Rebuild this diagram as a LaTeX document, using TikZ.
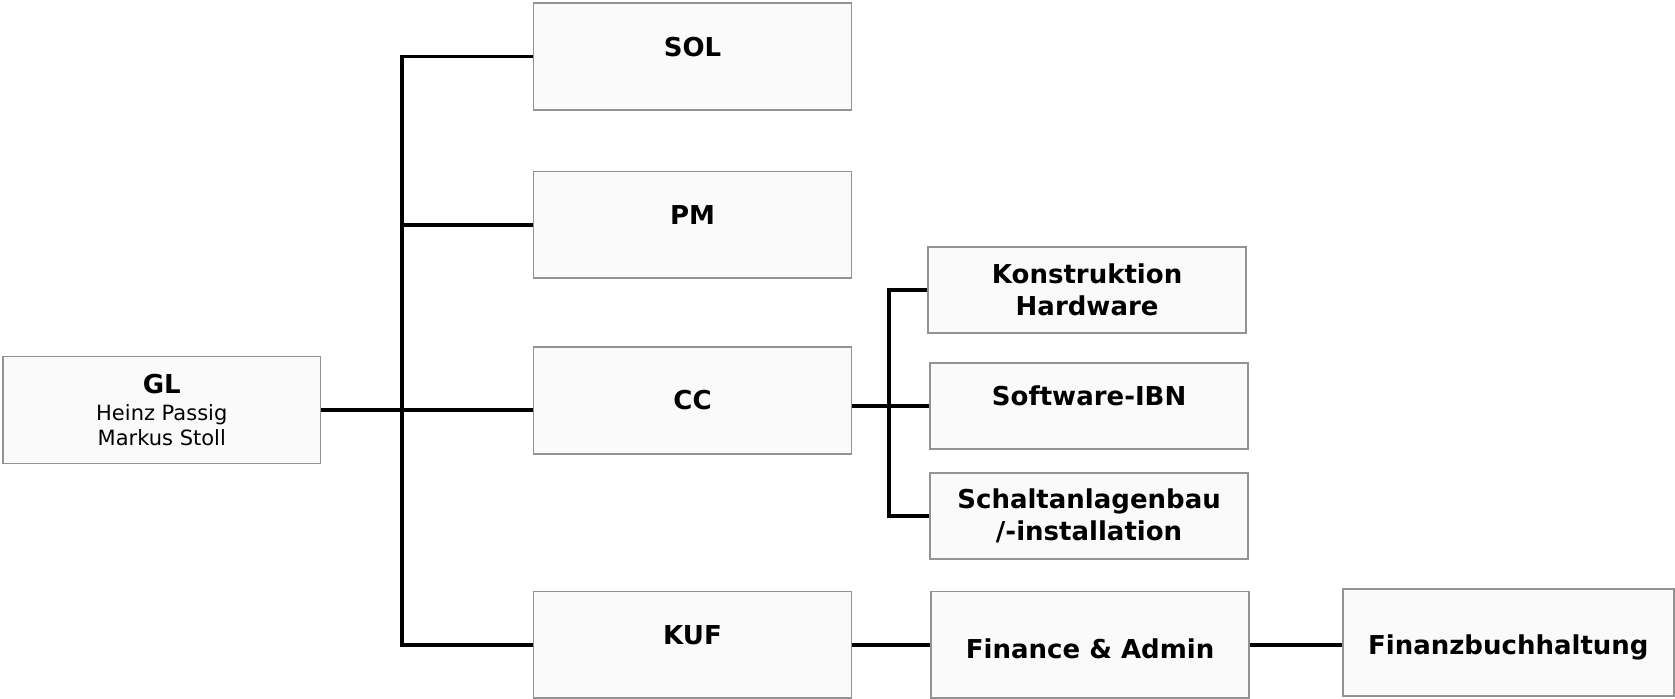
\documentclass[tikz,border=0pt]{standalone}
\usepackage{fontspec}
\setmainfont{DejaVu Sans}
\usetikzlibrary{positioning}
\tikzstyle{unit} = [draw=gray!85, fill=gray!4, rectangle, line width=0.8pt,
    minimum height=53.4pt, minimum width=159pt, align=center, inner sep=2pt,
    font=\fontsize{13}{16}\selectfont\bfseries]
\tikzstyle{subunit} = [unit, minimum height=43pt]
\tikzstyle{hightext} = [text height=12pt, text depth=12pt]
\tikzstyle{conn} = [draw, line width=1.9pt, black]
\newcommand{\namesfont}{\fontsize{10.5}{12.8}\selectfont\mdseries}

\begin{document}
\begin{tikzpicture}[x=0.5pt, y=-0.5pt]
    \useasboundingbox (0,0) rectangle (1675,699);
    % management on the left
    \node [unit, minimum width=158.6pt] (gl) at (161.8,410.1)
        {GL\\[-2.6pt] \namesfont Heinz Passig\\[-3.4pt] \namesfont Markus Stoll};
    % first level
    \node [unit] (cc) [right=105.75pt of gl, yshift=4.8pt] {CC};
    \node [unit, hightext] (pm) [above=33.6pt of cc] {PM};
    \node [unit, hightext] (sol) [above=30pt of pm] {SOL};
    \node [unit, hightext] (kuf) [below=67.9pt of cc] {KUF};
    % below CC
    \node [subunit, hightext] (sw) [right=38.5pt of cc, yshift=-2.7pt] {Software-IBN};
    \node [subunit] (kon) [above=14pt of sw, xshift=-1pt] {Konstruktion\\ Hardware};
    \node [subunit] (sch) [below=11.2pt of sw] {Schaltanlagenbau\\ /-installation};
    % below KUF
    \node [unit, text height=13.6pt] (fin) [right=39pt of kuf] {Finance \& Admin};
    \node [unit, minimum width=165.6pt, text height=15.3pt, text depth=2.9pt] (fb)
        [right=46pt of fin, yshift=1.2pt] {Finanzbuchhaltung};

    \coordinate (bus) at (401.6,0);
    \coordinate (ccbus) at (888.6,0);

    % connecting lines
    \draw [conn] (gl) -- (gl -| cc.west);
    \draw [conn] (sol.west) -- (sol.west -| bus) -- (kuf.west -| bus) -- (kuf.west);
    \draw [conn] (pm.west) -- (pm.west -| bus);
    \draw [conn] (sw.west -| cc.east) -- (sw.west);
    \draw [conn] (kon.west) -- (kon.west -| ccbus) -- (sch.west -| ccbus) -- (sch.west);
    \draw [conn] (kuf) -- (fin);
    \draw [conn] (fin) -- (fin -| fb.west);
\end{tikzpicture}
\end{document}
